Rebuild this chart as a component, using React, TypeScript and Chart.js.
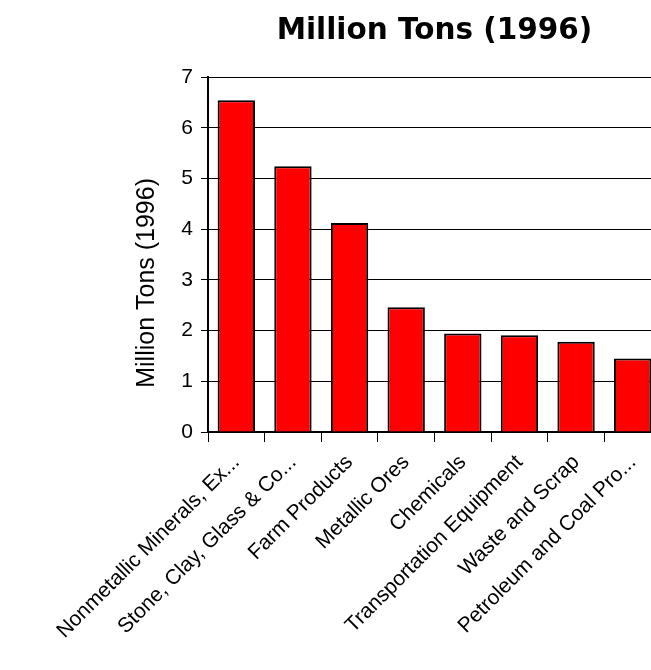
import React, { useEffect, useRef } from "react";
import { Chart, registerables } from "chart.js";

Chart.register(...registerables);

// Commodity groups and their tonnage (million tons, 1996)
const categories: string[] = [
  "Nonmetallic Minerals, Ex...",
  "Stone, Clay, Glass & Co...",
  "Farm Products",
  "Metallic Ores",
  "Chemicals",
  "Transportation Equipment",
  "Waste and Scrap",
  "Petroleum and Coal Pro...",
];
const tons: number[] = [6.54, 5.24, 4.12, 2.46, 1.94, 1.91, 1.78, 1.45];
const yTickValues: number[] = [0, 1, 2, 3, 4, 5, 6, 7];
const chartTitle = "Million Tons (1996)";
const yAxisTitle = "Million Tons (1996)";

const CANVAS_W = 854;
const CANVAS_H = 670;

// Draws the rotated y-axis title beside the value axis
const yTitlePlugin = {
  id: "yAxisTitle",
  afterDraw(chart: any) {
    const y = chart.scales.y;
    const area = chart.chartArea;
    const ctx = chart.ctx as CanvasRenderingContext2D;
    ctx.save();
    ctx.translate(area.left - 61, y.getPixelForValue(2.94));
    ctx.rotate(-Math.PI / 2);
    ctx.font = "25px 'Liberation Sans', Arial, sans-serif";
    ctx.fillStyle = "#000";
    ctx.textAlign = "center";
    ctx.textBaseline = "middle";
    ctx.fillText(yAxisTitle, 0, 0);
    ctx.restore();
  },
};

export default function App() {
  const canvasRef = useRef<HTMLCanvasElement | null>(null);

  useEffect(() => {
    if (!canvasRef.current) return;
    const chart = new Chart(canvasRef.current, {
      type: "bar",
      data: {
        labels: categories,
        datasets: [
          {
            label: yAxisTitle,
            data: tons,
            backgroundColor: "#ff0000",
            borderColor: "#000000",
            borderWidth: 2,
            categoryPercentage: 1,
            barPercentage: 0.66,
          },
        ],
      },
      options: {
        responsive: false,
        animation: false,
        layout: { padding: { left: 0, right: 193, top: 0, bottom: 0 } },
        plugins: {
          legend: { display: false },
          tooltip: { enabled: false },
          title: {
            display: true,
            fullSize: false,
            text: chartTitle,
            color: "#000",
            font: { family: "'DejaVu Sans', sans-serif", weight: "bold", size: 29.5 },
            padding: { top: 14, bottom: 27.6 },
          },
        },
        scales: {
          x: {
            afterFit: (s: any) => {
              s.height = 238;
            },
            grid: {
              offset: true,
              drawOnChartArea: false,
              drawTicks: true,
              tickLength: 10,
              color: "#000",
              lineWidth: 1,
            },
            border: { display: true, color: "#000", width: 2 },
            ticks: {
              autoSkip: false,
              minRotation: 45,
              maxRotation: 45,
              padding: 8,
              color: "#000",
              font: { family: "'Liberation Sans', Arial, sans-serif", size: 21 },
            },
          },
          y: {
            min: 0,
            max: 7,
            afterFit: (s: any) => {
              s.width = 208;
            },
            afterBuildTicks: (s: any) => {
              s.ticks = yTickValues.map((v) => ({ value: v }));
            },
            grid: {
              color: "#000",
              lineWidth: 1,
              drawTicks: true,
              tickLength: 7,
            },
            border: { display: true, color: "#000", width: 2 },
            ticks: {
              padding: 8,
              color: "#000",
              font: { family: "'Liberation Sans', Arial, sans-serif", size: 21 },
            },
          },
        },
      },
      plugins: [yTitlePlugin],
    });
    return () => chart.destroy();
  }, []);

  return (
    <div
      style={{
        position: "fixed",
        left: 0,
        top: 0,
        width: 651,
        height: 670,
        overflow: "hidden",
        background: "#fff",
      }}
    >
      <canvas
        ref={canvasRef}
        width={CANVAS_W}
        height={CANVAS_H}
        style={{ display: "block", width: CANVAS_W, height: CANVAS_H }}
      />
    </div>
  );
}
